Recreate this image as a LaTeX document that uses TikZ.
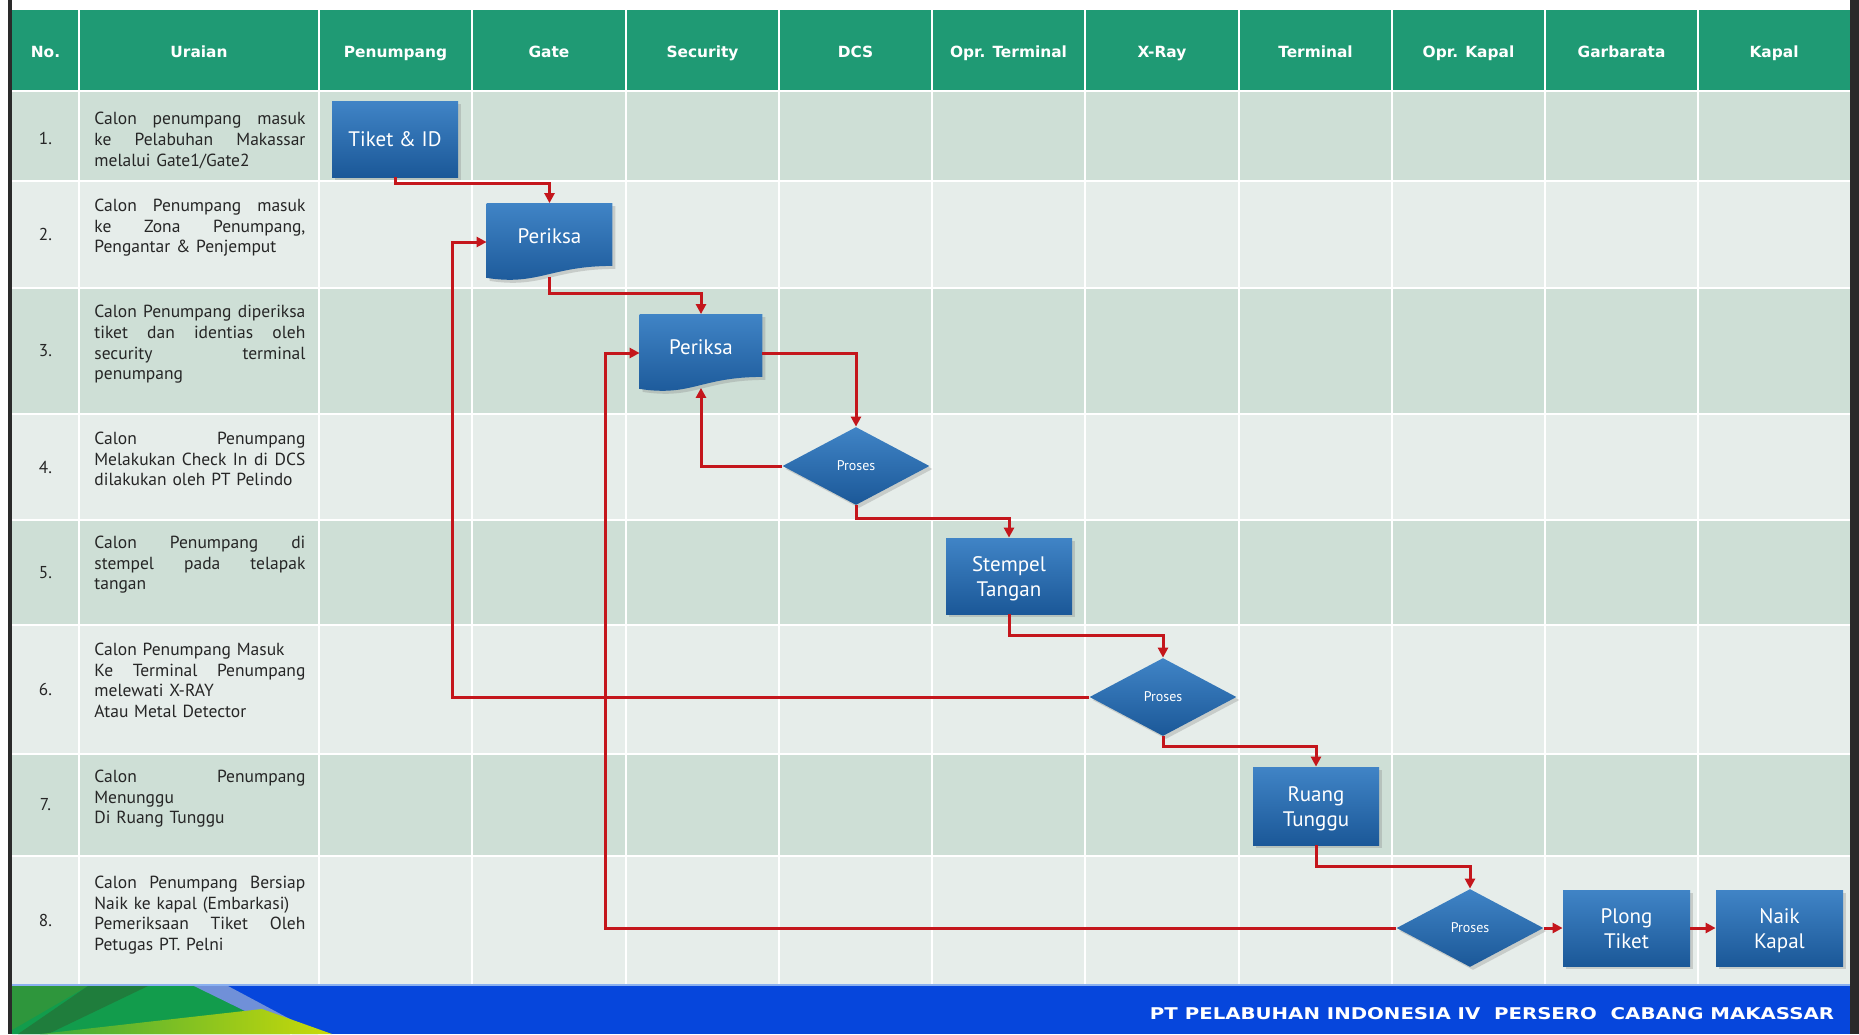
\documentclass[tikz,border=0pt]{standalone}
\usepackage{fontspec}
\usepackage{graphicx}
\setmainfont{PT Sans}
\newfontfamily\hdfont{DejaVu Sans}
\usetikzlibrary{shapes.geometric,arrows.meta,shadows}
\pgfdeclarelayer{tbl}
\pgfdeclarelayer{shp}
\pgfsetlayers{tbl,shp,main}
\definecolor{hdgreen}{HTML}{1F9A74}
\definecolor{rowA}{HTML}{CEDFD6}
\definecolor{rowB}{HTML}{E6EDEA}
\definecolor{boxtop}{HTML}{4084C6}
\definecolor{boxbot}{HTML}{1B5898}
\definecolor{redline}{HTML}{C4161C}
\definecolor{footblue}{HTML}{0646DC}
\definecolor{footline}{HTML}{8AB0F0}
\definecolor{fgreen}{HTML}{129C4C}
\definecolor{fdkgreen}{HTML}{1F7D3C}
\definecolor{fmgreen}{HTML}{2E963C}
\definecolor{fgreenB}{HTML}{3AA83C}
\definecolor{flime}{HTML}{CADA08}
\definecolor{fband}{HTML}{7090D8}
\definecolor{darkedge}{HTML}{2A2A2A}
\newcommand{\jl}[1]{\leavevmode\hbox to 105.5pt{\spaceskip=\fontdimen2\font plus 1fill\relax #1}}
\newcommand{\twol}[2]{\raisebox{-4.2pt}[0pt][0pt]{\begin{tabular}{@{}c@{}}#1\\#2\end{tabular}}}
\tikzset{
  hd/.style={text=white, inner sep=0pt, anchor=base, font=\hdfont\bfseries\fontsize{7.7}{9}\selectfont},
  desc/.style={anchor=north west, inner sep=0pt, text width=105.5pt, align=left,
    font=\fontsize{8.75}{10.35}\selectfont, text=black!85},
  numtxt/.style={inner sep=0pt, font=\fontsize{8.6}{10.35}\selectfont, text=black!85},
  shade box/.style={top color=boxtop, bottom color=boxbot,
    drop shadow={shadow xshift=1.5pt, shadow yshift=-1.5pt, opacity=0.3}},
  flowbox/.style={rectangle, shade box, inner sep=0pt, text=white, align=center,
    minimum width=63pt, minimum height=38pt, font=\fontsize{10.5}{12.5}\selectfont},
  docnode/.style={rectangle, inner sep=0pt, text=white, align=center,
    minimum width=62.5pt, minimum height=38.5pt, font=\fontsize{10.5}{12.5}\selectfont},
  decision/.style={diamond, shade box, inner sep=0pt, text=white, aspect=1.9,
    minimum width=73.5pt, minimum height=39pt, font=\fontsize{7}{8}\selectfont},
  redarrow/.style={draw=redline, line width=1.5pt, -{Triangle[length=5pt,width=5pt]}},
}
\begin{document}
\begin{tikzpicture}[x=0.5pt,y=-0.5pt]
\useasboundingbox (0,0) rectangle (1859,1034);
\begin{pgfonlayer}{tbl}
  \fill[white] (0,0) rectangle (1859,1034);
  \fill[hdgreen] (12,9.5) rectangle (1850,91);
  \foreach \a/\b/\c in {92/181/rowA,181/288/rowB,288/414/rowA,414/520/rowB,
                        520/625/rowA,625/754/rowB,754/856/rowA,856/984/rowB}
    \fill[\c] (12,\a) rectangle (1850,\b);
  \foreach \yy in {91,181,288,414,520,625,754,856}
    \draw[white, line width=1pt] (12,\yy) -- (1850,\yy);
  \foreach \xx in {79,319,472,626,779,932,1085,1239,1392,1545,1698}
    \draw[white, line width=1pt] (\xx,9.5) -- (\xx,984);
  % footer
  \fill[footblue] (12,984) rectangle (1850,1034);
  \fill[fgreen] (12,986) -- (196,986) -- (290,1034) -- (12,1034) -- cycle;
  \fill[fmgreen] (12,986) -- (88,986) -- (12,1030) -- cycle;
  \fill[fdkgreen] (88,986) -- (148,986) -- (48,1034) -- (18,1034) -- cycle;
  \fill[fband] (194,986) -- (228,986) -- (318,1034) -- (292,1034) -- cycle;
  \shade[left color=fgreenB, right color=flime] (40,1034) -- (262,1009) -- (332,1034) -- cycle;
  \fill[footline] (12,983.5) rectangle (1850,986);
  \fill[darkedge] (8,0) rectangle (12,1034);
  \fill[darkedge] (1850,0) rectangle (1859,1034);
\end{pgfonlayer}

% header
\foreach \xx/\t [count=\i] in {45.5/No., 199/Uraian, 395.5/Penumpang, 549/Gate,
   702.5/Security, 855.5/DCS, 1008.5/Opr. Terminal, 1162/X-Ray, 1315.5/Terminal,
   1468.5/Opr. Kapal, 1621.5/Garbarata, 1774/Kapal}
  \node[hd] (h\i) at (\xx,57) {\t};

% numbers
\foreach \yy [count=\i] in {138.5,234.5,351,467,572.5,689.5,805,920}
  \node[numtxt] (n\i) at (45.5,\yy) {\i.};

% descriptions
\node[desc] (u1) at (94,112) {\jl{Calon penumpang masuk}\\ \jl{ke Pelabuhan Makassar}\\ melalui Gate1/Gate2};
\node[desc] (u2) at (94,198.5) {\jl{Calon Penumpang masuk}\\ \jl{ke Zona Penumpang,}\\ Pengantar \& Penjemput};
\node[desc] (u3) at (94,305) {\jl{Calon Penumpang diperiksa}\\ \jl{tiket dan identias oleh}\\ \jl{security terminal}\\ penumpang};
\node[desc] (u4) at (94,431.5) {\jl{Calon Penumpang}\\ \jl{Melakukan Check In di DCS}\\ dilakukan oleh PT Pelindo};
\node[desc] (u5) at (94,535.5) {\jl{Calon Penumpang di}\\ \jl{stempel pada telapak}\\ tangan};
\node[desc] (u6) at (94,642.5) {Calon Penumpang Masuk\\ \jl{Ke Terminal Penumpang}\\ melewati X-RAY\\ Atau Metal Detector};
\node[desc] (u7) at (94,769.5) {\jl{Calon Penumpang}\\ Menunggu\\ Di Ruang Tunggu};
\node[desc] (u8) at (94,875.5) {\jl{Calon Penumpang Bersiap}\\ Naik ke kapal (Embarkasi)\\ \jl{Pemeriksaan Tiket Oleh}\\ Petugas PT. Pelni};

% flow nodes
\node[flowbox] (tk) at (395,139) {Tiket \& ID};
\node[docnode] (p1) at (549.5,242) {\raisebox{-0.6pt}[0pt][0pt]{Periksa}};
\node[docnode, minimum width=61pt] (p2) at (701,353) {\raisebox{-0.6pt}[0pt][0pt]{Periksa}};
\node[decision] (d1) at (856,466) {Proses};
\node[flowbox] (st) at (1009,576) {\twol{Stempel}{Tangan}};
\node[decision] (d2) at (1163,697) {Proses};
\node[flowbox, minimum height=39pt] (ru) at (1316,806) {\twol{Ruang}{Tunggu}};
\node[decision] (d3) at (1470,928) {Proses};
\node[flowbox, minimum width=63.5pt] (pl) at (1626.5,928) {\twol{Plong}{Tiket}};
\node[flowbox, minimum width=63.5pt] (nk) at (1779.5,928) {\twol{Naik}{Kapal}};

\begin{pgfonlayer}{shp}
  \foreach \n in {p1,p2}
    \path[shade box] (\n.north west) -- (\n.north east) -- ([yshift=7.5pt]\n.south east)
      .. controls ([xshift=-31pt,yshift=7.5pt]\n.south east) and ([xshift=26pt,yshift=-2.5pt]\n.south west)
      .. ([yshift=1.5pt]\n.south west) -- cycle;
\end{pgfonlayer}

% connectors
\draw[redarrow] (tk.south) -- ++(0,6) -| (p1.north);
\draw[redarrow] ([yshift=2pt]p1.south) -- ++(0,17) -| (p2.north);
\draw[redarrow] (p2.east) -| (d1.north);
\draw[redarrow] (d1.west) -| ([yshift=2pt]p2.south);
\draw[redarrow] (d1.south) -- ++(0,13) -| (st.north);
\draw[redarrow] (st.south) -- ++(0,21) -| (d2.north);
\draw[redarrow] (d2.west) -| ([xshift=-17pt]p1.west) -- (p1.west);
\draw[redarrow] (d2.south) -- ++(0,10) -| (ru.north);
\draw[redarrow] (ru.south) -- ++(0,21) -| (d3.north);
\draw[redarrow] (d3.west) -| ([xshift=-17pt]p2.west) -- (p2.west);
\draw[redarrow] (d3.east) -- (pl.west);
\draw[redarrow] (pl.east) -- (nk.west);

% footer text
\node[text=white, inner sep=0pt] (ft) at (1492,1014)
  {\resizebox{342pt}{6pt}{\hdfont\bfseries PT PELABUHAN INDONESIA IV\ \ PERSERO\ \ CABANG MAKASSAR}};
\end{tikzpicture}
\end{document}
